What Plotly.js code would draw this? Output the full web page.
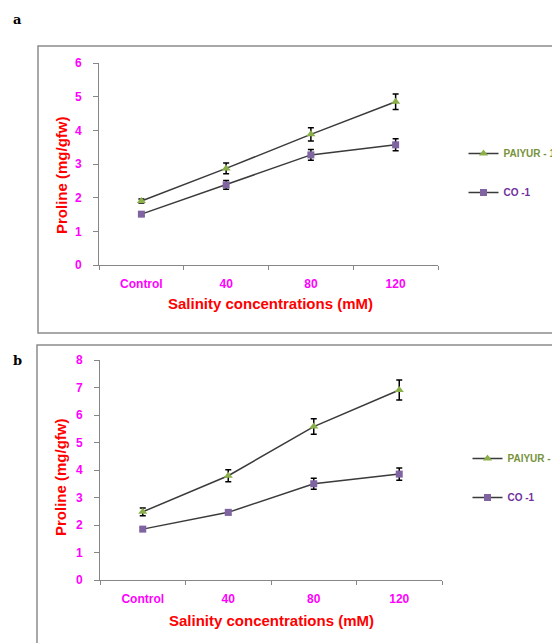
<!DOCTYPE html>
<html>
<head>
<meta charset="utf-8">
<script src="https://cdn.plot.ly/plotly-3.0.1.min.js"></script>
<style>html,body{margin:0;padding:0;background:#fff;overflow:hidden;}#chart{width:620px;height:643px;}</style>
</head>
<body>
<div id="chart"></div>
<script>
// ---- data ----
const categories = ["Control", "40", "80", "120"];
const seriesNames = ["PAIYUR - 1", "CO -1"];
// panel a
const aPaiyur = [1.90, 2.87, 3.88, 4.85];
const aPaiyurErr = [0.06, 0.16, 0.20, 0.23];
const aCo1 = [1.51, 2.38, 3.27, 3.57];
const aCo1Err = [0.05, 0.13, 0.16, 0.18];
// panel b
const bPaiyur = [2.48, 3.79, 5.58, 6.91];
const bPaiyurErr = [0.14, 0.22, 0.28, 0.36];
const bCo1 = [1.85, 2.46, 3.50, 3.85];
const bCo1Err = [0.05, 0.08, 0.20, 0.22];
const panelLabels = ["a", "b"];
const xTitle = "Salinity concentrations (mM)";
const yTitle = "Proline (mg/gfw)";

// canvas is wider than the 552px window so the legend text runs off the edge as in the reference
const W = 620, H = 643;
const px = v => v / W;
const py = v => 1 - v / H;

const green = "#8BB04A", purple = "#8064A2", lineCol = "#3a3a3a";
const greenText = "#77933C", purpleText = "#7030A0";

function trace(y, err, name, symbol, color, textColor, xa, ya, legend, group) {
  return {
    type: "scatter", mode: "lines+markers",
    x: categories, y: y, xaxis: xa, yaxis: ya,
    name: "<span style='color:" + textColor + "'>" + name + "</span>",
    legend: legend, legendgroup: group,
    line: {color: lineCol, width: 1.5},
    marker: {symbol: symbol, color: color, size: symbol.indexOf("triangle") === 0 ? 8 : 7, line: {width: 0}},
    error_y: {type: "data", array: err, visible: true, color: "#000", thickness: 1.5, width: 3}
  };
}

const data = [
  trace(aPaiyur, aPaiyurErr, seriesNames[0], "triangle-up", green, greenText, "x", "y", "legend", "a1"),
  trace(aCo1, aCo1Err, seriesNames[1], "square", purple, purpleText, "x", "y", "legend", "a2"),
  trace(bPaiyur, bPaiyurErr, seriesNames[0], "triangle-up", green, greenText, "x2", "y2", "legend2", "b1"),
  trace(bCo1, bCo1Err, seriesNames[1], "square", purple, purpleText, "x2", "y2", "legend2", "b2")
];

const fam = "Liberation Sans, Arial, sans-serif";
const xTickFont = {family: fam, size: 12, color: "#FF00FF", weight: "bold"};
const yTickFont = {family: fam, size: 12, color: "#FF00FF", weight: "bold"};
const titleFont = {family: fam, size: 15, color: "#FF0000", weight: "bold"};
const axisCol = "#868686";

function xaxis(dom, anchor) {
  return {
    domain: dom, anchor: anchor, type: "category", range: [-0.5, 3.5],
    showline: true, linecolor: axisCol, linewidth: 1,
    ticks: "outside", ticklen: 4, tickcolor: axisCol, tickson: "boundaries",
    ticklabelstandoff: 8,
    showgrid: false, zeroline: false, tickfont: xTickFont, fixedrange: true
  };
}
function yaxis(dom, anchor, max) {
  return {
    domain: dom, anchor: anchor, range: [0, max], dtick: 1,
    showline: true, linecolor: axisCol, linewidth: 1,
    ticks: "outside", ticklen: 5, tickcolor: axisCol, ticklabelstandoff: 9,
    showgrid: false, zeroline: false, tickfont: yTickFont, fixedrange: true
  };
}

const legendFont = {family: fam, size: 10, weight: "bold"};
const titleAnn = (text, x, y, angle) => ({
  text: text, xref: "paper", yref: "paper", x: px(x), y: py(y), showarrow: false,
  textangle: angle, font: titleFont, xanchor: "center", yanchor: "middle"
});
const labelFont = {family: "DejaVu Serif, Liberation Serif, serif", size: 13, color: "#000", weight: "bold"};

const layout = {
  width: W, height: H,
  margin: {l: 0, r: 0, t: 0, b: 0},
  paper_bgcolor: "#fff", plot_bgcolor: "#fff",
  showlegend: true,
  xaxis: xaxis([px(99), px(438)], "y"),
  yaxis: yaxis([py(265), py(63)], "x", 6),
  xaxis2: xaxis([px(100), px(442)], "y2"),
  yaxis2: yaxis([py(580), py(360)], "x2", 8),
  legend: {x: px(463.5), y: py(139), xanchor: "left", yanchor: "top", bgcolor: "rgba(0,0,0,0)",
           font: legendFont, traceorder: "grouped", tracegroupgap: 20, itemwidth: 30},
  legend2: {x: px(467.5), y: py(444), xanchor: "left", yanchor: "top", bgcolor: "rgba(0,0,0,0)",
           font: legendFont, traceorder: "grouped", tracegroupgap: 20, itemwidth: 30},
  shapes: [
    {type: "rect", xref: "paper", yref: "paper", x0: px(38), x1: px(640), y0: py(333), y1: py(46),
     line: {color: "#8c8c8c", width: 1.5}},
    {type: "rect", xref: "paper", yref: "paper", x0: px(37), x1: px(640), y0: py(680), y1: py(345),
     line: {color: "#8c8c8c", width: 1.5}}
  ],
  annotations: [
    {text: panelLabels[0], xref: "paper", yref: "paper", x: px(17), y: py(20), showarrow: false,
     xanchor: "center", yanchor: "middle", font: labelFont},
    {text: panelLabels[1], xref: "paper", yref: "paper", x: px(17), y: py(360), showarrow: false,
     xanchor: "center", yanchor: "middle", font: labelFont},
    titleAnn(xTitle, 270, 304, 0),
    titleAnn(yTitle, 61, 175, -90),
    titleAnn(xTitle, 271, 620, 0),
    titleAnn(yTitle, 61, 477, -90)
  ]
};

Plotly.newPlot("chart", data, layout, {displayModeBar: false, staticPlot: true});
</script>
</body>
</html>
